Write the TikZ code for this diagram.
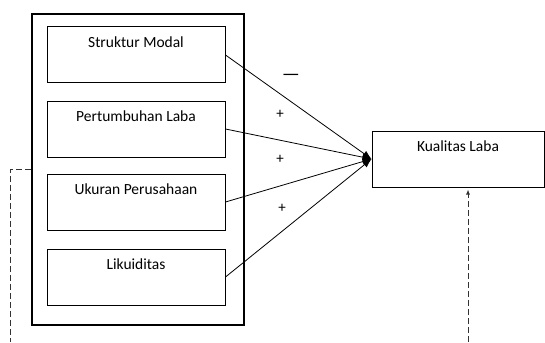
\documentclass[tikz,border=0pt]{standalone}
\usepackage{fontspec}
\setmainfont{Carlito}
\usetikzlibrary{arrows.meta}

\begin{document}
\begin{tikzpicture}[x=1pt, y=-1pt,
    varbox/.style={draw, line width=1pt, minimum width=178pt, minimum height=56pt, inner sep=0pt},
    vartitle/.style={anchor=north, yshift=-7pt, font=\fontsize{15.5}{18}\selectfont},
    link/.style={line width=0.8pt, -{Latex[length=9pt,width=7pt]}},
    sign/.style={font=\fontsize{15}{18}\selectfont},
    guide/.style={black!80, line width=0.9pt, dash pattern=on 6pt off 3pt}]

    \useasboundingbox (0,0) rectangle (545,342);

    % Draw outer frame
    \node[draw, line width=2.6pt, minimum width=212pt, minimum height=311pt] (frame) at (138,169.5) {};

    % Draw independent variables
    \node[varbox, label={[vartitle]north:Struktur Modal}] (sm) at (136,55) {};
    \node[varbox, label={[vartitle]north:Pertumbuhan Laba}] (pl) at (136,129) {};
    \node[varbox, label={[vartitle]north:Ukuran Perusahaan}] (up) at (136,202) {};
    \node[varbox, label={[vartitle]north:Likuiditas}] (lk) at (136,277) {};

    % Draw dependent variable
    \node[varbox, minimum width=172pt, label={[vartitle]north:Kualitas Laba}] (kl) at (458,159) {};

    % Draw links
    \foreach \v in {sm,pl,up,lk} {
      \draw[link] (\v.east) -- (kl.west);
    }

    % Signs
    \node[sign, font=\fontsize{20}{24}\selectfont] (s1) at (291,77) {—};
    \node[sign] (s2) at (280,114) {+};
    \node[sign] (s3) at (280,159) {+};
    \node[sign] (s4) at (282,208) {+};

    % Dashed guides
    \coordinate (lb) at (10,342);
    \coordinate (kb) at (468,342);
    \draw[guide] (frame.west) -| (lb);
    \draw[guide, -{Latex[length=5pt,width=4pt]}, shorten >=2pt] (kb) -- (kb |- kl.south);
\end{tikzpicture}
\end{document}
